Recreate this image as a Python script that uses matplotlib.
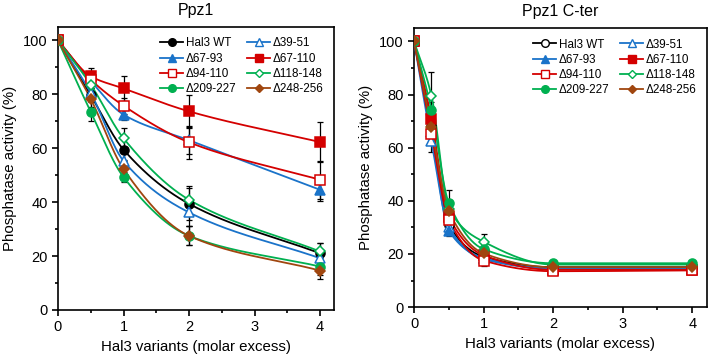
import numpy as np
import matplotlib
matplotlib.use('Agg')
import matplotlib.pyplot as plt

plt.rcParams['font.family'] = ['Liberation Sans', 'DejaVu Sans']

# ---- data ----
labels = ['Hal3 WT', 'Δ39-51', 'Δ67-93', 'Δ67-110',
          'Δ94-110', 'Δ118-148', 'Δ209-227', 'Δ248-256']

x_full = [0, 0.5, 1, 2, 4]
full_vals = {
    'Hal3 WT':  [100, 79.7, 59.5, 39.4, 21.0],
    'Δ39-51':   [100, 80.5, 55.3, 36.2, 19.2],
    'Δ67-93':   [100, 85.0, 72.5, 63.0, 44.6],
    'Δ67-110':  [100, 86.7, 82.2, 73.7, 62.3],
    'Δ94-110':  [100, 85.5, 75.8, 62.2, 48.3],
    'Δ118-148': [100, 83.6, 63.7, 40.9, 21.7],
    'Δ209-227': [100, 73.5, 49.3, 27.5, 16.1],
    'Δ248-256': [100, 78.3, 52.3, 27.5, 14.6],
}
full_err = {
    'Hal3 WT':  [0, 2, 4, 6, 4],
    'Δ39-51':   [0, 2, 3, 5, 3],
    'Δ67-93':   [0, 2, 2, 5, 4],
    'Δ67-110':  [0, 3, 4.5, 6, 7.5],
    'Δ94-110':  [0, 3, 3, 6, 7],
    'Δ118-148': [0, 2, 4, 5, 3],
    'Δ209-227': [0, 3.5, 2, 3.5, 3],
    'Δ248-256': [0, 3, 3, 3.5, 3],
}

x_cter = [0, 0.25, 0.5, 1, 2, 4]
cter_vals = {
    'Hal3 WT':  [100, 68.0, 31.0, 19.0, 15.0, 15.0],
    'Δ39-51':   [100, 62.4, 30.0, 18.0, 14.5, 14.5],
    'Δ67-93':   [100, 66.0, 28.7, 18.5, 14.5, 14.5],
    'Δ67-110':  [100, 70.8, 34.0, 19.5, 14.0, 14.0],
    'Δ94-110':  [100, 65.3, 32.8, 17.5, 13.5, 13.8],
    'Δ118-148': [100, 79.6, 37.0, 24.6, 16.0, 16.0],
    'Δ209-227': [100, 74.3, 39.1, 21.8, 16.5, 16.5],
    'Δ248-256': [100, 67.7, 36.0, 20.2, 15.0, 15.0],
}
cter_err = {
    'Hal3 WT':  [0, 3, 2, 2, 1, 2],
    'Δ39-51':   [0, 4, 3, 2, 1, 2],
    'Δ67-93':   [0, 3, 2, 2, 1, 1],
    'Δ67-110':  [0, 3, 2, 2, 1, 1],
    'Δ94-110':  [0, 3, 2, 2, 1, 1],
    'Δ118-148': [0, 9, 3, 3, 1, 1],
    'Δ209-227': [0, 3, 5, 2, 1, 1],
    'Δ248-256': [0, 3, 2, 2, 1, 1],
}

blue, red, green, brown = '#1a73c9', '#d40000', '#00b050', '#a0460f'
styles = {
    'Hal3 WT':  dict(color='black', marker='o', mfc='black'),
    'Δ39-51':   dict(color=blue, marker='^', mfc='white'),
    'Δ67-93':   dict(color=blue, marker='^', mfc=blue),
    'Δ67-110':  dict(color=red, marker='s', mfc=red),
    'Δ94-110':  dict(color=red, marker='s', mfc='white'),
    'Δ118-148': dict(color=green, marker='D', mfc='white', ms=5),
    'Δ209-227': dict(color=green, marker='o', mfc=green),
    'Δ248-256': dict(color=brown, marker='D', mfc=brown, ms=5),
}


def smooth(x, y, n=200):
    # monotone cubic (Fritsch-Carlson) through the points, for drawing only
    x = np.asarray(x, float)
    y = np.asarray(y, float)
    h = np.diff(x)
    d = np.diff(y) / h
    m = np.zeros_like(y)
    m[0], m[-1] = d[0], d[-1]
    for i in range(1, len(x) - 1):
        if d[i - 1] * d[i] > 0:
            w1 = 2 * h[i] + h[i - 1]
            w2 = h[i] + 2 * h[i - 1]
            m[i] = (w1 + w2) / (w1 / d[i - 1] + w2 / d[i])
    xs = np.linspace(x[0], x[-1], n)
    k = np.clip(np.searchsorted(x, xs) - 1, 0, len(x) - 2)
    t = (xs - x[k]) / h[k]
    h00 = 2 * t**3 - 3 * t**2 + 1
    h10 = t**3 - 2 * t**2 + t
    h01 = -2 * t**3 + 3 * t**2
    h11 = t**3 - t**2
    ys = h00 * y[k] + h10 * h[k] * m[k] + h01 * y[k + 1] + h11 * h[k] * m[k + 1]
    return xs, ys


def draw_panel(ax, xv, vals, errs, title, wt_open=False):
    handles = []
    for lab in labels:
        st = dict(styles[lab])
        if lab == 'Hal3 WT' and wt_open:
            st['mfc'] = 'white'
        ms = st.pop('ms', 6.5)
        ax.errorbar(xv, vals[lab], yerr=errs[lab], fmt='none', ecolor='black',
                    elinewidth=0.9, capsize=2.2, capthick=0.9, zorder=2)
        xs, ys = smooth(xv, vals[lab])
        ax.plot(xs, ys, color=st['color'], lw=1.3, zorder=3)
        ax.plot(xv, vals[lab], ls='none', marker=st['marker'], ms=ms,
                mfc=st['mfc'], mec=st['color'], mew=1.1, zorder=4)
        h, = ax.plot([], [], color=st['color'], lw=1.3, marker=st['marker'],
                     ms=ms - 1, mfc=st['mfc'], mec=st['color'], mew=1.0)
        handles.append(h)
    order = [0, 2, 4, 6, 1, 3, 5, 7]
    ax.legend([handles[i] for i in order], [labels[i] for i in order],
              ncol=2, frameon=False, fontsize=8.4, loc='upper right',
              bbox_to_anchor=(1.0, 1.0), handlelength=2.0, handletextpad=0.2,
              columnspacing=0.9, labelspacing=0.28, borderaxespad=0.5)
    ax.set_xlim(0, 4.21)
    ax.set_ylim(0, 105)
    ax.set_xticks([0, 1, 2, 3, 4])
    ax.set_xticks(np.arange(0, 4.01, 0.5), minor=True)
    ax.set_yticks([0, 20, 40, 60, 80, 100])
    ax.set_yticks(np.arange(0, 101, 10), minor=True)
    ax.tick_params(which='major', direction='out', length=4, width=1.2,
                   labelsize=10.5)
    ax.tick_params(which='minor', direction='out', length=2.5, width=1.2)
    for sp in ax.spines.values():
        sp.set_linewidth(1.2)
    ax.set_xlabel('Hal3 variants (molar excess)', fontsize=10.8)
    ax.set_ylabel('Phosphatase activity (%)', fontsize=10.8)
    ax.set_title(title, fontsize=11.5, pad=9)


fig = plt.figure(figsize=(7.09, 3.6), dpi=100)
ax1 = fig.add_axes([0.0818, 0.139, 0.389, 0.786])
ax2 = fig.add_axes([0.584, 0.147, 0.413, 0.775])

draw_panel(ax1, x_full, full_vals, full_err, 'Ppz1')
draw_panel(ax2, x_cter, cter_vals, cter_err, 'Ppz1 C-ter', wt_open=True)

fig.savefig('out.png', dpi=100)
